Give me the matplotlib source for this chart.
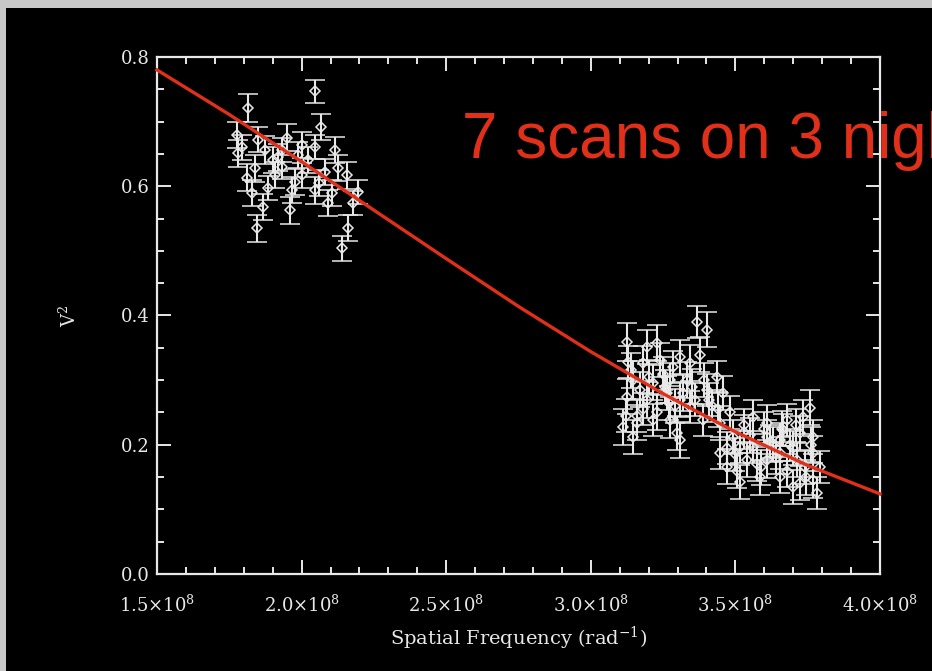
import numpy as np
import matplotlib.pyplot as plt
from matplotlib.patches import Rectangle
from matplotlib.ticker import MultipleLocator, FuncFormatter

# spatial frequency in units of 1e8 rad^-1, squared visibility, error
freq_a = [2.046, 1.815, 2.067, 1.777, 1.849, 1.950, 2.001, 2.046, 2.116, 1.780,
          1.901, 1.932, 1.811, 1.908, 2.001, 2.081, 2.157, 1.828, 1.884, 1.967,
          2.046, 2.105, 2.195, 1.867, 1.960, 2.091, 2.178, 1.846, 2.160, 2.140,
          1.988, 1.873, 2.022, 1.932, 1.977, 1.839, 2.126, 1.795, 2.060, 1.920]
vis_a = [0.747, 0.721, 0.692, 0.679, 0.672, 0.675, 0.664, 0.661, 0.656, 0.651,
         0.641, 0.630, 0.613, 0.617, 0.617, 0.622, 0.617, 0.590, 0.597, 0.594,
         0.594, 0.590, 0.591, 0.568, 0.563, 0.574, 0.574, 0.535, 0.535, 0.504,
         0.648, 0.656, 0.641, 0.656, 0.607, 0.628, 0.628, 0.660, 0.605, 0.645]
err_a = [0.018, 0.021, 0.020, 0.020, 0.019, 0.021, 0.020, 0.019, 0.020, 0.021,
         0.020, 0.019, 0.021, 0.020, 0.019, 0.020, 0.021, 0.020, 0.019, 0.020,
         0.021, 0.020, 0.019, 0.020, 0.021, 0.020, 0.019, 0.021, 0.020, 0.019,
         0.020, 0.021, 0.020, 0.019, 0.020, 0.021, 0.020, 0.019, 0.020, 0.021]

freq_b = [3.367, 3.402, 3.125, 3.194, 3.229, 3.129, 3.181, 3.239, 3.284, 3.343,
          3.378, 3.308, 3.436, 3.146, 3.215, 3.274, 3.333, 3.402, 3.457, 3.125,
          3.194, 3.264, 3.343, 3.111, 3.160, 3.146, 3.215, 3.274, 3.298, 3.308,
          3.388, 3.447, 3.492, 3.516, 3.561, 3.609, 3.679, 3.734, 3.758, 3.665,
          3.723, 3.609, 3.561, 3.540, 3.609, 3.654, 3.713, 3.768, 3.793, 3.516,
          3.585, 3.654, 3.723, 3.768, 3.782, 3.699, 3.471, 3.447, 3.654, 3.768,
          3.250, 3.170, 3.420, 3.530, 3.630, 3.690, 3.740, 3.590, 3.500, 3.360,
          3.140, 3.200, 3.255, 3.320, 3.290, 3.230, 3.180, 3.120, 3.350, 3.410,
          3.480, 3.550, 3.620, 3.700, 3.760, 3.640, 3.575, 3.505, 3.470, 3.680,
          3.745, 3.600, 3.530, 3.660, 3.710, 3.390, 3.310, 3.160, 3.270, 3.440]
vis_b = [0.390, 0.378, 0.359, 0.351, 0.357, 0.328, 0.326, 0.331, 0.320, 0.326,
         0.339, 0.336, 0.305, 0.300, 0.296, 0.300, 0.300, 0.285, 0.280, 0.274,
         0.269, 0.280, 0.258, 0.227, 0.234, 0.212, 0.238, 0.238, 0.218, 0.207,
         0.238, 0.234, 0.212, 0.197, 0.243, 0.234, 0.238, 0.243, 0.257, 0.223,
         0.218, 0.212, 0.197, 0.176, 0.176, 0.187, 0.176, 0.187, 0.166, 0.142,
         0.150, 0.150, 0.141, 0.145, 0.125, 0.135, 0.166, 0.187, 0.207, 0.212,
         0.310, 0.285, 0.260, 0.220, 0.200, 0.200, 0.165, 0.165, 0.185, 0.270,
         0.315, 0.305, 0.290, 0.280, 0.260, 0.250, 0.255, 0.245, 0.290, 0.270,
         0.250, 0.215, 0.205, 0.195, 0.200, 0.180, 0.170, 0.160, 0.195, 0.160,
         0.150, 0.225, 0.230, 0.225, 0.230, 0.300, 0.270, 0.245, 0.265, 0.255]
err_b = [0.025, 0.027, 0.030, 0.026, 0.028, 0.025, 0.027, 0.026, 0.025, 0.028,
         0.027, 0.026, 0.025, 0.029, 0.027, 0.026, 0.028, 0.025, 0.026, 0.027,
         0.028, 0.026, 0.025, 0.028, 0.027, 0.026, 0.025, 0.027, 0.026, 0.028,
         0.025, 0.026, 0.027, 0.025, 0.026, 0.027, 0.025, 0.026, 0.027, 0.025,
         0.026, 0.027, 0.025, 0.026, 0.027, 0.025, 0.026, 0.027, 0.025, 0.026,
         0.027, 0.025, 0.026, 0.027, 0.025, 0.026, 0.027, 0.025, 0.026, 0.027,
         0.026, 0.027, 0.025, 0.026, 0.027, 0.025, 0.026, 0.027, 0.025, 0.026,
         0.027, 0.026, 0.025, 0.028, 0.026, 0.027, 0.025, 0.026, 0.027, 0.025,
         0.026, 0.027, 0.025, 0.026, 0.027, 0.025, 0.026, 0.027, 0.025, 0.026,
         0.027, 0.025, 0.026, 0.027, 0.025, 0.026, 0.027, 0.025, 0.026, 0.027]

# fitted model curve
fit_freq = [1.50, 1.75, 2.00, 2.25, 2.50, 2.75, 3.00, 3.25, 3.50, 3.75, 4.00]
fit_vis = [0.780, 0.711, 0.638, 0.563, 0.488, 0.414, 0.344, 0.279, 0.220, 0.168, 0.124]

label_text = "7 scans on 3 nights"

fg = "#e8e8e8"
red = "#e0301a"

plt.rcParams["font.family"] = "DejaVu Serif"
plt.rcParams["mathtext.fontset"] = "dejavuserif"

fig = plt.figure(figsize=(9.32, 6.71), dpi=100, facecolor="#c8c8c8")
fig.patches.append(Rectangle((6 / 932, 0), 1, 1 - 8 / 671, transform=fig.transFigure,
                             facecolor="black", edgecolor="none", zorder=-10))

ax = fig.add_axes([157 / 932, 1 - 574 / 671, 723 / 932, 517 / 671])
ax.set_facecolor("black")

for f, v, e in [(freq_a, vis_a, err_a), (freq_b, vis_b, err_b)]:
    ax.errorbar(np.array(f) * 1e8, v, yerr=e, fmt="D", ms=5.5, mfc="none", mec=fg,
                mew=1.1, ecolor=fg, elinewidth=1.5, capsize=7.5, capthick=1.5, zorder=2)

ax.plot(np.array(fit_freq) * 1e8, fit_vis, color=red, lw=2.4, zorder=3, clip_on=False)

ax.set_xlim(1.5e8, 4.0e8)
ax.set_ylim(0.0, 0.8)
ax.xaxis.set_major_locator(MultipleLocator(0.5e8))
ax.xaxis.set_minor_locator(MultipleLocator(0.1e8))
ax.yaxis.set_major_locator(MultipleLocator(0.2))
ax.yaxis.set_minor_locator(MultipleLocator(0.05))
ax.xaxis.set_major_formatter(FuncFormatter(lambda x, p: r"%.1f$\times$10$^{8}$" % (x / 1e8)))
ax.yaxis.set_major_formatter(FuncFormatter(lambda y, p: "%.1f" % y))

ax.tick_params(which="both", direction="in", top=True, right=True, colors=fg,
               labelcolor=fg, labelsize=13, width=1.4)
ax.tick_params(which="major", length=10)
ax.tick_params(which="minor", length=5)
ax.tick_params(axis="x", which="major", pad=15)
ax.tick_params(axis="y", which="major", pad=5)
for s in ax.spines.values():
    s.set_color(fg)
    s.set_linewidth(1.6)

ax.set_xlabel("Spatial Frequency (rad$^{-1}$)", color=fg, fontsize=14, labelpad=6)
ax.set_ylabel("V$^2$", color=fg, fontsize=13, labelpad=30)

ax.text(462, 671 - 158, label_text, transform=None, color=red, fontsize=46,
        family="Liberation Sans", ha="left", va="baseline", clip_on=False, zorder=1)

fig.savefig("out.png", dpi=100, facecolor=fig.get_facecolor())
